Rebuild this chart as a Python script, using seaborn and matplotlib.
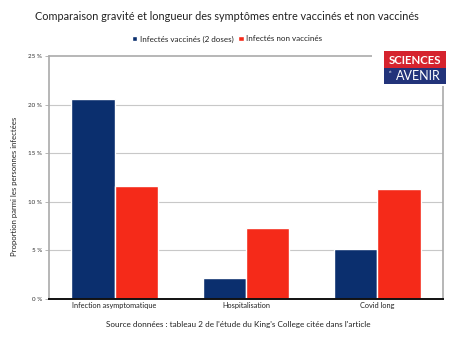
import matplotlib
matplotlib.use("Agg")
import matplotlib.pyplot as plt
import seaborn as sns
import pandas as pd
from matplotlib.patches import Rectangle

categories = ["Infection asymptomatique", "Hospitalisation", "Covid long"]
series_names = ["Infectés vaccinés (2 doses)", "Infectés non vaccinés"]
vaccines = [20.6, 2.2, 5.1]
non_vaccines = [11.6, 7.3, 11.3]
y_ticks = [0, 5, 10, 15, 20, 25]
y_tick_labels = ["0 %", "5 %", "10 %", "15 %", "20 %", "25 %"]

df = pd.DataFrame({
    "cat": categories * 2,
    "serie": [series_names[0]] * 3 + [series_names[1]] * 3,
    "val": vaccines + non_vaccines,
})

sns.set_style("white")
plt.rcParams['font.family'] = ['Lato', 'DejaVu Sans']

BLUE = "#0b2f6e"
RED = "#f52a19"

fig = plt.figure(figsize=(4.53, 3.39), dpi=100)
ax = fig.add_axes([49/453, 1 - 299/339, 394/453, 243/339])

sns.barplot(data=df, x="cat", y="val", hue="serie", palette=[BLUE, RED],
            width=0.66, gap=0, saturation=1, ax=ax, legend=True, zorder=3)

ax.set_ylim(0, 25)
ax.set_xlim(-0.5, 2.5)
ax.set_yticks(y_ticks)
ax.set_yticklabels(y_tick_labels, fontsize=4.5, color="#333333")
ax.tick_params(axis="y", length=3, width=0.6, color="#aaaaaa", pad=2, direction="out", left=True)
ax.tick_params(axis="x", length=0, labelsize=5.3, pad=2.5, colors="#222222")
ax.set_xlabel("")
ax.set_ylabel("")
fig.text(15/453, 1 - 186/339, "Proportion parmi les personnes infectées", rotation=90,
         ha="center", va="center", fontsize=5.6, color="#222222")

for y in [5, 10, 15, 20]:
    ax.axhline(y, color="#c8c8c8", lw=0.8, zorder=1)
ax.axhline(25, color="#aaaaaa", lw=1.2, zorder=1, clip_on=False)

ax.spines["top"].set_visible(False)
ax.spines["left"].set_color("#aaaaaa")
ax.spines["left"].set_linewidth(1.2)
ax.spines["right"].set_color("#aaaaaa")
ax.spines["right"].set_linewidth(1.2)
ax.spines["bottom"].set_color("#111111")
ax.spines["bottom"].set_linewidth(1.4)
ax.spines["bottom"].set_zorder(5)

leg = ax.legend(loc="center", bbox_to_anchor=(227/453, 1 - 39/339), bbox_transform=fig.transFigure,
                ncol=2, frameon=False, fontsize=5.8, handlelength=0.7, handleheight=0.7,
                handletextpad=0.3, columnspacing=0.6)
for t in leg.get_texts():
    t.set_color("#222222")

fig.text(227/453, 1 - 17/339, "Comparaison gravité et longueur des symptômes entre vaccinés et non vaccinés",
         ha="center", va="center", fontsize=7.8, color="#222222")
fig.text(238/453, 1 - 325/339, "Source données : tableau 2 de l'étude du King's College citée dans l'article",
         ha="center", va="center", fontsize=5.9, color="#222222")

# logo
fig.patches.append(Rectangle((372/453, 1 - 86/339), 78/453, 36/339, transform=fig.transFigure,
                             facecolor="white", edgecolor="none", zorder=10))
fig.patches.append(Rectangle((384/453, 1 - 68/339), 62/453, 17/339, transform=fig.transFigure,
                             facecolor="#d5232e", edgecolor="none", zorder=11))
fig.patches.append(Rectangle((384/453, 1 - 84/339), 62/453, 16/339, transform=fig.transFigure,
                             facecolor="#22337a", edgecolor="none", zorder=11))
fig.text(415/453, 1 - 60/339, "SCIENCES", ha="center", va="center", fontsize=8.2,
         fontweight="bold", color="white", zorder=12)
fig.text(418/453, 1 - 76.5/339, "AVENIR", ha="center", va="center", fontsize=9.0,
         color="white", zorder=12)
fig.text(391/453, 1 - 72/339, "et", ha="center", va="center", fontsize=3,
         color="white", zorder=12)

fig.savefig("out.png", dpi=100)
